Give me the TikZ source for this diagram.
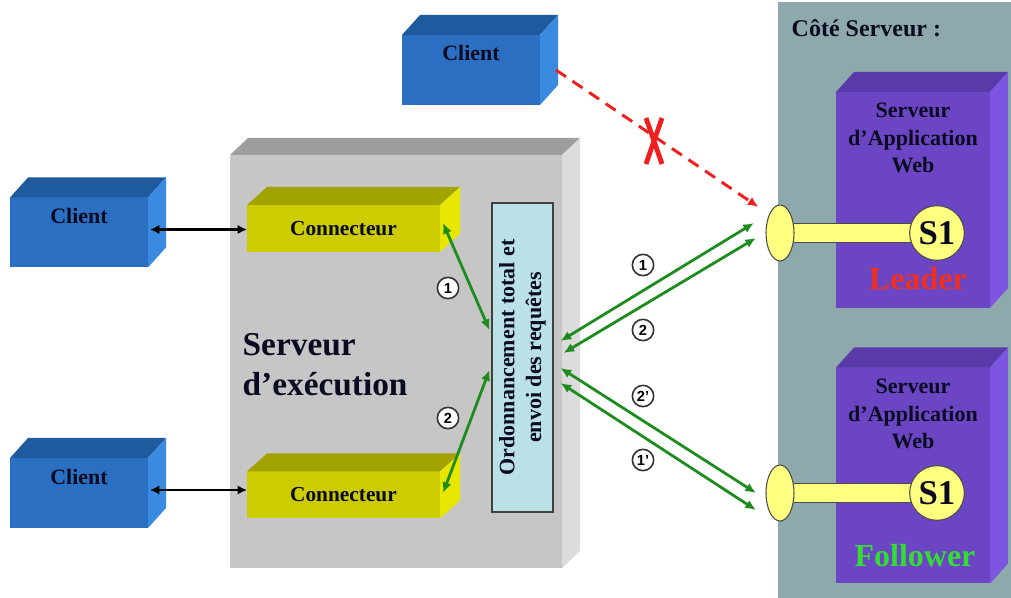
\documentclass[tikz,border=0pt]{standalone}
\usepackage{fontspec}
\setmainfont{Liberation Serif}
\setsansfont{Liberation Sans}
\usetikzlibrary{arrows.meta,calc,shapes.geometric}
\definecolor{cblue}{HTML}{2B6FC2}
\definecolor{cbluetop}{HTML}{1F5A9E}
\definecolor{cblueside}{HTML}{3A8BE0}
\definecolor{cgrey}{HTML}{C6C6C6}
\definecolor{cgreytop}{HTML}{9E9E9E}
\definecolor{cgreyside}{HTML}{DCDCDC}
\definecolor{cyel}{HTML}{CCCC00}
\definecolor{cyeltop}{HTML}{A3A300}
\definecolor{cyelside}{HTML}{E6E600}
\definecolor{cpurple}{HTML}{6B45C4}
\definecolor{cpurpletop}{HTML}{5A3AA8}
\definecolor{cpurpleside}{HTML}{7D55E0}
\definecolor{cteal}{HTML}{8DA9AB}
\definecolor{cord}{HTML}{B9E1E6}
\definecolor{cpale}{HTML}{FFFF80}
\definecolor{cgreen}{HTML}{1E8C1E}
\definecolor{cred}{HTML}{F01E1E}
\definecolor{cleader}{HTML}{F0301E}
\definecolor{cfollow}{HTML}{33DD33}
\definecolor{cink}{HTML}{0A0A20}
% top and side faces of a block: node, dx, dy, top colour, side colour
\newcommand{\faces}[5]{%
  \fill[#4] (#1.north west) -- ++(#2,#3) -- ($(#1.north east)+(#2,#3)$) -- (#1.north east) -- cycle;
  \fill[#5] (#1.north east) -- ++(#2,#3) -- ($(#1.south east)+(#2,#3)$) -- (#1.south east) -- cycle;}
\tikzset{
  blk/.style={rectangle,inner sep=0pt,outer sep=0pt,text=cink,
              font=\bfseries\fontsize{16}{19}\selectfont},
  client/.style={blk,fill=cblue,minimum width=103.5pt,minimum height=52.5pt},
  conn/.style={blk,fill=cyel,minimum width=144.75pt,minimum height=35.25pt},
  web/.style={blk,fill=cpurple,minimum width=115.5pt,minimum height=162pt},
  lbl/.style={text=cink,font=\bfseries\fontsize{16.5}{19}\selectfont},
  ordbox/.style={rectangle,draw=black!75,line width=0.8pt,fill=cord,inner sep=0pt,
                 minimum width=45.75pt,minimum height=231.75pt},
  port/.style={ellipse,draw=black!70,fill=cpale,line width=0.8pt,inner sep=0pt,
               minimum width=21pt,minimum height=42pt},
  sone/.style={circle,draw=black!70,fill=cpale,line width=0.8pt,inner sep=0pt,
               minimum size=41pt,text=cink,font=\bfseries\fontsize{26}{30}\selectfont},
  num/.style={circle,draw=black!80,line width=1.2pt,fill=white,inner sep=0pt,minimum size=16pt,
              font=\sffamily\bfseries\fontsize{11}{11}\selectfont},
  barr/.style={{Latex[length=7pt,width=7pt]}-{Latex[length=7pt,width=7pt]},line width=1.9pt,black},
  garr/.style={{Latex[length=8pt,width=7pt]}-{Latex[length=8pt,width=7pt]},line width=2.1pt,cgreen},
  rarr/.style={-{Latex[length=8pt,width=7pt]},line width=2.2pt,cred,dash pattern=on 9pt off 6pt},
  cross/.style={line width=3.6pt,cred},
}
\begin{document}
\begin{tikzpicture}[x=0.75pt,y=-0.75pt]
  \useasboundingbox (0,0) rectangle (1011,598);
  % server side panel
  \fill[cteal] (778,2) rectangle (1011,598);
  \node[lbl,anchor=west,font=\bfseries\fontsize{18}{22}\selectfont] (cote) at (787,28) {Côté Serveur :};
  % web application servers
  \node[web] (web1) at (913,200) {};
  \faces{web1}{18}{-20}{cpurpletop}{cpurpleside}
  \node[web] (web2) at (913,475.5) {};
  \faces{web2}{18}{-20}{cpurpletop}{cpurpleside}
  \node[lbl,align=center,font=\bfseries\fontsize{16.5}{20.5}\selectfont] (web1txt) at (913,138) {Serveur\\d’Application\\Web};
  \node[lbl,align=center,font=\bfseries\fontsize{16.5}{20.5}\selectfont] (web2txt) at (913,414) {Serveur\\d’Application\\Web};
  % lollipops
  \coordinate (p1) at (780,233); \coordinate (q1) at (937,233);
  \coordinate (p2) at (780,493); \coordinate (q2) at (937,493);
  \draw[black!70,fill=cpale,line width=0.8pt] ($(p1)+(0,-9.5)$) rectangle ($(q1)+(0,9.5)$);
  \draw[black!70,fill=cpale,line width=0.8pt] ($(p2)+(0,-9.5)$) rectangle ($(q2)+(0,9.5)$);
  \node[port] (port1) at (p1) {};
  \node[port] (port2) at (p2) {};
  \node[sone] (s1a) at (q1) {S1};
  \node[sone] (s1b) at (q2) {S1};
  \node[font=\bfseries\fontsize{24}{28}\selectfont,text=cleader] (leader) at (918,279) {Leader};
  \node[font=\bfseries\fontsize{24}{28}\selectfont,text=cfollow] (follower) at (915,556) {Follower};
  % execution server
  \node[blk,fill=cgrey,minimum width=249pt,minimum height=309.75pt] (exec) at (396,361.5) {};
  \faces{exec}{18}{-17}{cgreytop}{cgreyside}
  \node[lbl,align=left,anchor=west,font=\bfseries\fontsize{25}{30}\selectfont] (exectxt) at (238,365) {Serveur\\d’exécution};
  \node[conn] (conn1) at (343.5,228.5) {Connecteur};
  \faces{conn1}{20}{-18}{cyeltop}{cyelside}
  \node[conn] (conn2) at (343.5,495) {Connecteur};
  \faces{conn2}{20}{-18}{cyeltop}{cyelside}
  \node[ordbox] (ord) at (522.5,357.5) {};
  \node[lbl,rotate=90,align=center,font=\bfseries\fontsize{16.5}{20}\selectfont] (ordtxt) at (ord.center)
     {Ordonnancement total et\\envoi des requêtes};
  % clients
  \node[client] (clientT) at (471,70) {};
  \faces{clientT}{18}{-20}{cbluetop}{cblueside}
  \node[client] (client1) at (79,232.5) {};
  \faces{client1}{18}{-20}{cbluetop}{cblueside}
  \node[client] (client2) at (79,493) {};
  \faces{client2}{18}{-20}{cbluetop}{cblueside}
  \node[lbl] (clientTtxt) at (471,53) {Client};
  \node[lbl] (client1txt) at (79,216) {Client};
  \node[lbl] (client2txt) at (79,477) {Client};
  % client <-> connector
  \draw[barr] ($(client1.east)+(2,-3)$) -- ($(client1.east -| conn1.west)+(0,-3)$);
  \draw[barr] ($(client2.east)+(2,-3)$) -- ($(client2.east -| conn2.west)+(0,-3)$);
  % connectors <-> ordering
  \draw[garr] ($(conn1.east)+(3,-5.5)$) -- ($(ord.west)+(-2,-27.5)$);
  \draw[garr] ($(conn2.east)+(3,-2)$) -- ($(ord.west)+(-2,12.5)$);
  \node[num] (n1) at (448,288) {1};
  \node[num] (n2) at (448,418) {2};
  % ordering <-> web servers
  \draw[garr] ($(ord.east)+(7,-16.5)$) -- ($(port1.west)+(-11.5,-10)$);
  \draw[garr] ($(ord.east)+(10,-4.5)$) -- ($(port1.west)+(-9.5,5)$);
  \draw[garr] ($(ord.east)+(7,10.5)$) -- ($(port2.west)+(-9.5,0)$);
  \draw[garr] ($(ord.east)+(7,25.5)$) -- ($(port2.west)+(-9.5,17)$);
  \node[num] (m1) at (643,265) {1};
  \node[num] (m2) at (643,330) {2};
  \node[num] (m2p) at (643,396) {2’};
  \node[num] (m1p) at (643,460) {1’};
  % direct access is refused
  \draw[rarr] ($(clientT.east)+(16,0)$) -- ($(port1.west)+(-7,-26)$);
  \coordinate (cut) at (654,141);
  \draw[cross] ($(cut)+(-8,-23)$) -- ($(cut)+(8,23)$);
  \draw[cross] ($(cut)+(8,-23)$) -- ($(cut)+(-8,23)$);
\end{tikzpicture}
\end{document}
